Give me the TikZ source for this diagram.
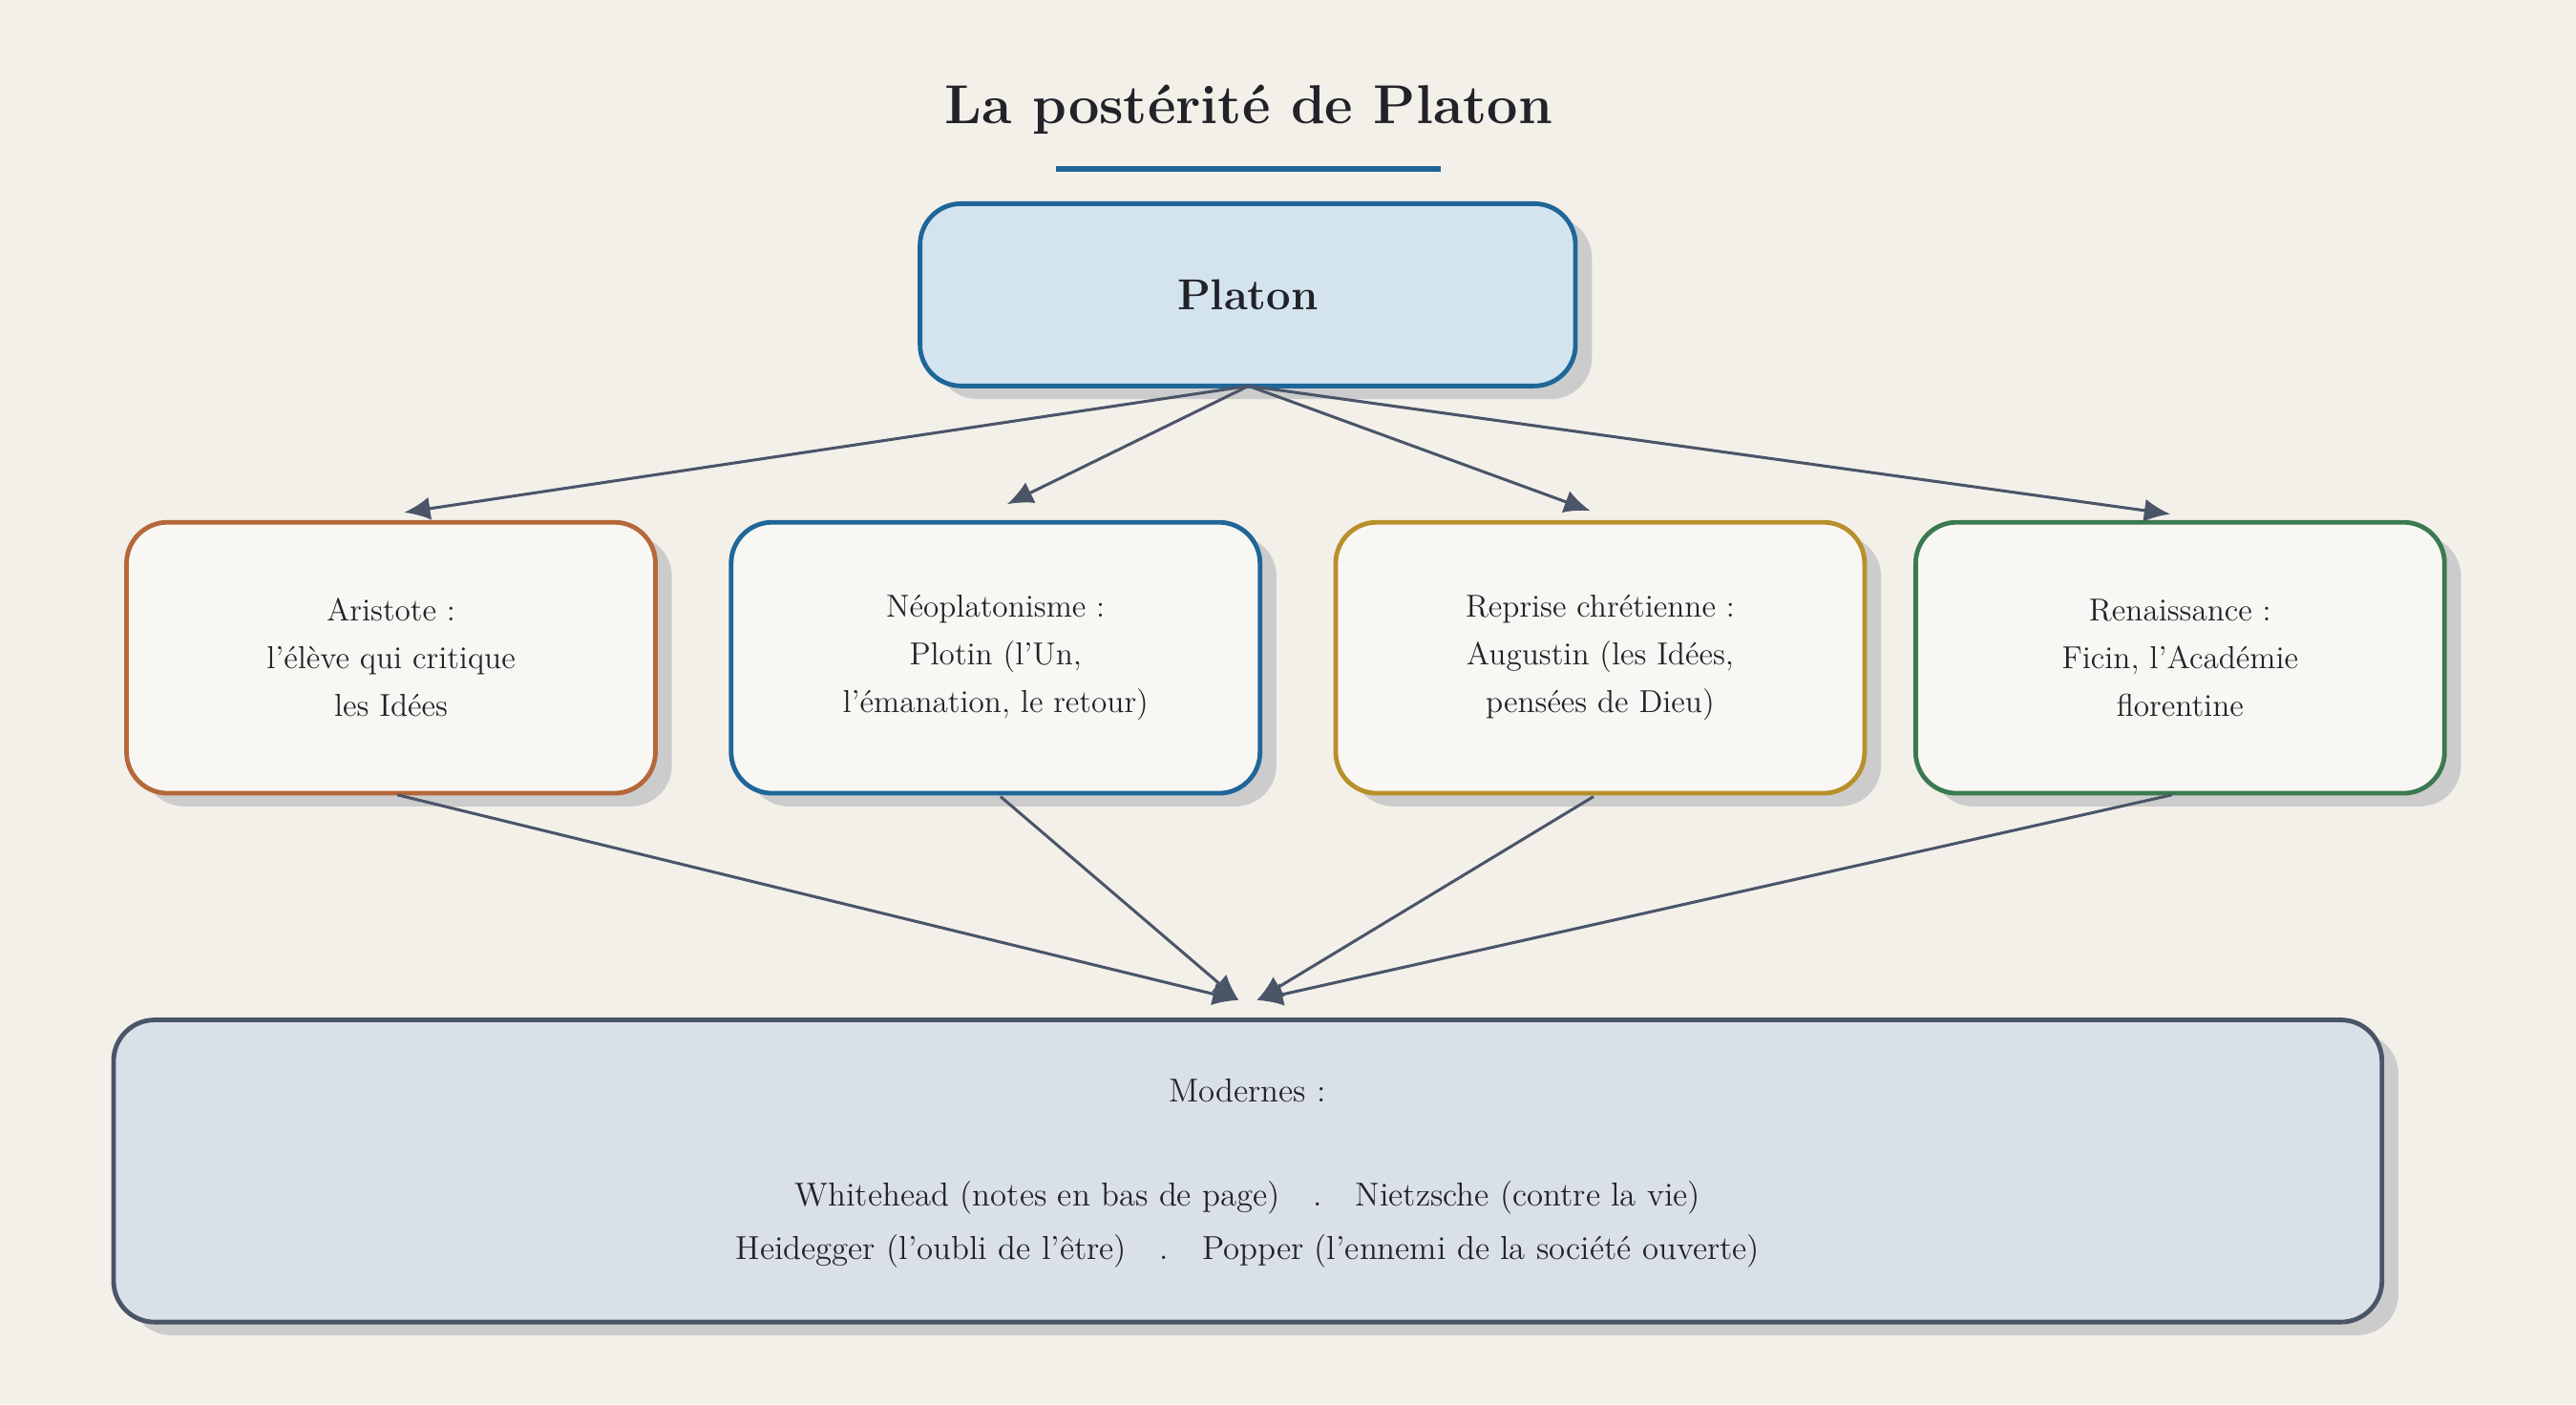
\documentclass[tikz,border=0pt]{standalone}
\usetikzlibrary{arrows.meta,shadows}
\begin{document}
\definecolor{bg}{HTML}{F3F0EA}
\definecolor{ink}{HTML}{222229}
\definecolor{arr}{HTML}{4A5568}
\definecolor{pblue}{HTML}{1F6699}
\definecolor{pfill}{HTML}{D4E4EF}
\definecolor{cfill}{HTML}{F8F7F3}
\definecolor{corange}{HTML}{B5683A}
\definecolor{cgold}{HTML}{B8902A}
\definecolor{cgreen}{HTML}{3A7A50}
\definecolor{mfill}{HTML}{DAE0E7}
\begin{tikzpicture}[x=0.02cm,y=-0.02cm,
 box/.style={draw,line width=1.6pt,rounded corners=0.5cm,text=ink,align=center,
   drop shadow={shadow xshift=0.2cm,shadow yshift=-0.16cm,fill=black!20,opacity=1}},
 card/.style={box,fill=cfill,minimum width=6.44cm,minimum height=3.3cm,font=\fontsize{11}{16.5}\selectfont},
 con/.style={draw=arr,line width=1pt,-{Latex[length=9pt,width=8pt]}}]
\fill[bg] (0,0) rectangle (1568,855);
\useasboundingbox (0,0) rectangle (1568,855);
\node[font=\fontsize{19}{22}\selectfont\bfseries,text=ink] (title) at (760,67) {La postérité de Platon};
\draw[pblue,line width=2pt] (643,103) -- (877,103);
\node[box,draw=pblue,fill=pfill,minimum width=7.98cm,minimum height=2.22cm,font=\fontsize{15}{18}\selectfont\bfseries] (pl) at (759.5,179.5) {Platon};
\node[card,draw=corange] (a) at (238,400.5) {Aristote :\\l'élève qui critique\\les Idées};
\node[card,draw=pblue] (n) at (606,400.5) {Néoplatonisme :\\Plotin (l'Un,\\l'émanation, le retour)};
\node[card,draw=cgold] (r) at (974,400.5) {Reprise chrétienne :\\Augustin (les Idées,\\pensées de Dieu)};
\node[card,draw=cgreen] (re) at (1327,400.5) {Renaissance :\\Ficin, l'Académie\\florentine};
\node[box,draw=arr,fill=mfill,minimum width=27.62cm,minimum height=3.68cm] (m) at (759.5,713) {};
\node[text=ink,font=\fontsize{11.5}{13}\selectfont] (mt) at (759.5,664) {Modernes :};
\node[text=ink,font=\fontsize{11.5}{13}\selectfont] (m1) at (759.5,729) {Whitehead (notes en bas de page)\quad.\quad Nietzsche (contre la vie)};
\node[text=ink,font=\fontsize{11.5}{13}\selectfont] (m2) at (759.5,762) {Heidegger (l'oubli de l'être)\quad.\quad Popper (l'ennemi de la société ouverte)};
\coordinate (ps) at (760,235);
\coordinate (ta) at (246,312); \coordinate (tn) at (613,307);
\coordinate (tr) at (968,311); \coordinate (tre) at (1321,313);
\draw[con] (ps) -- (ta); \draw[con] (ps) -- (tn);
\draw[con] (ps) -- (tr); \draw[con] (ps) -- (tre);
\coordinate (ab) at (242,484); \coordinate (nb) at (609,485);
\coordinate (rb) at (970,485); \coordinate (reb) at (1322,484);
\coordinate (ml) at (754,609); \coordinate (mr) at (765,609);
\draw[con] (ab) -- (ml); \draw[con] (nb) -- (ml);
\draw[con] (rb) -- (mr); \draw[con] (reb) -- (mr);
\end{tikzpicture}
\end{document}
